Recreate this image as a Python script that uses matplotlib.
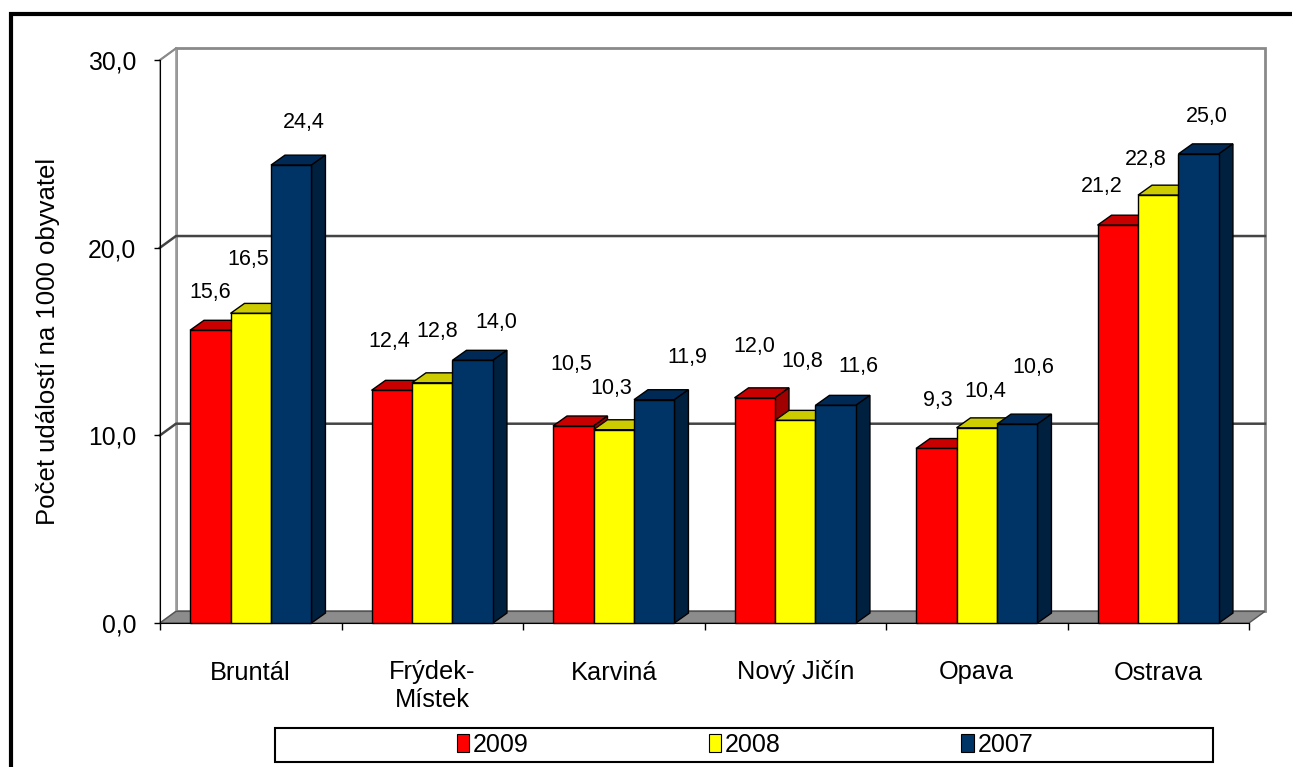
import matplotlib.pyplot as plt
from matplotlib.patches import Polygon, Rectangle, Patch

plt.rcParams['font.family'] = ['Liberation Sans', 'DejaVu Sans']

categories = ["Bruntál", "Frýdek-\nMístek", "Karviná", "Nový Jičín", "Opava", "Ostrava"]
years = ["2009", "2008", "2007"]
v2009 = [15.6, 12.4, 10.5, 12.0, 9.3, 21.2]
v2008 = [16.5, 12.8, 10.3, 10.8, 10.4, 22.8]
v2007 = [24.4, 14.0, 11.9, 11.6, 10.6, 25.0]
series = [v2009, v2008, v2007]

front = ["#FF0000", "#FFFF00", "#003366"]
top = ["#C80000", "#CCCC00", "#002A55"]
side = ["#A00000", "#A0A000", "#002040"]

# posun popisku (px) od stredu horni hrany
lab_dx = [[0, -3, 13], [-3, 5, 24], [-2, -2, 33], [0, 7, 23], [2, 9, 16], [-16, -12, 8]]
lab_dy = [[38, 54, 43], [49, 51, 38], [61, 41, 42], [51, 59, 39], [48, 36, 57], [39, 36, 37]]

fig = plt.figure(figsize=(12.92, 7.67), dpi=100)
ax = fig.add_axes([160 / 1292, 144 / 767, 1089 / 1292, 563 / 767])
ax.set_xlim(0, 6)
ax.set_ylim(0, 30)

# hloubka steny a sloupcu
dx, dy = 0.088, 0.62
bdx, bdy = 0.077, 0.53
w = 0.223

# zadni stena, bocni stena, podlaha
ax.add_patch(Rectangle((dx, dy), 6, 30, facecolor="white", edgecolor="#8a8a8a", lw=2, zorder=0.5, clip_on=False))
ax.add_patch(Polygon([(0, 0), (dx, dy), (dx, 30 + dy), (0, 30)], closed=True, facecolor="white",
                     edgecolor="#a0a0a0", lw=1.2, zorder=0.6, clip_on=False))
for g in [10, 20]:
    ax.plot([0, dx, 6 + dx], [g, g + dy, g + dy], color="#444444", lw=1.8, zorder=0.7, clip_on=False)
ax.plot([0, dx], [30, 30 + dy], color="#8a8a8a", lw=1.5, zorder=0.7, clip_on=False)
ax.add_patch(Polygon([(0, 0), (6, 0), (6 + dx, dy), (dx, dy)], closed=True, facecolor="#8c8c8c",
                     edgecolor="#555555", lw=1, zorder=1, clip_on=False))

for j, vals in enumerate(series):
    xs = [i + 0.5 + (j - 1) * w for i in range(len(categories))]
    ax.bar(xs, vals, width=w, color=front[j], edgecolor="black", lw=1, zorder=3 + j * 0.1 + 0.05,
           clip_on=False)
    for i, (x, v) in enumerate(zip(xs, vals)):
        l, r = x - w / 2, x + w / 2
        ax.add_patch(Polygon([(l, v), (r, v), (r + bdx, v + bdy), (l + bdx, v + bdy)], closed=True,
                             facecolor=top[j], edgecolor="black", lw=1, zorder=3 + j * 0.1 + 0.02, clip_on=False))
        ax.add_patch(Polygon([(r, 0), (r + bdx, bdy), (r + bdx, v + bdy), (r, v)], closed=True,
                             facecolor=side[j], edgecolor="black", lw=1, zorder=3 + j * 0.1 + 0.02, clip_on=False))
        ax.annotate(f"{v:.1f}".replace(".", ","), (x, v), xytext=(lab_dx[i][j], lab_dy[i][j]),
                    textcoords="offset pixels", ha="center", va="center", fontsize=15.5, zorder=6)

for s in ["top", "right"]:
    ax.spines[s].set_visible(False)
ax.spines["left"].set_zorder(2)
ax.spines["bottom"].set_zorder(2)
ax.set_yticks([0, 10, 20, 30])
ax.set_yticklabels(["0,0", "10,0", "20,0", "30,0"], fontsize=17.8)
ax.tick_params(axis="y", length=4, pad=13, width=1)
ax.set_xticks(range(7))
ax.set_xticklabels([])
ax.tick_params(axis="x", which="major", length=5, width=1)
ax.set_xticks([i + 0.5 for i in range(6)], minor=True)
ax.set_xticklabels(categories, minor=True, fontsize=18.3)
ax.tick_params(axis="x", which="minor", length=0, pad=27)
ax.set_ylabel("Počet událostí na 1000 obyvatel", fontsize=18.5)
ax.yaxis.set_label_coords(-100 / 1089, 0.5)

handles = [Patch(facecolor=front[j], edgecolor="black", lw=0.8) for j in range(3)]
fig.legend(handles, years, loc="center", bbox_to_anchor=(745 / 1292, 1 - 745 / 767), ncol=3,
           frameon=False, fontsize=18, handlelength=0.5, handleheight=0.75, handletextpad=0.15,
           columnspacing=7.2)
fig.add_artist(Rectangle((275 / 1292, 1 - 762 / 767), 938 / 1292, 34 / 767, transform=fig.transFigure,
                         facecolor="none", edgecolor="black", lw=1.5))
fig.add_artist(Rectangle((11 / 1292, -0.5), 2, 1.5 - 13.5 / 767, transform=fig.transFigure,
                         facecolor="none", edgecolor="black", lw=3))

fig.savefig("out.png", dpi=100)
